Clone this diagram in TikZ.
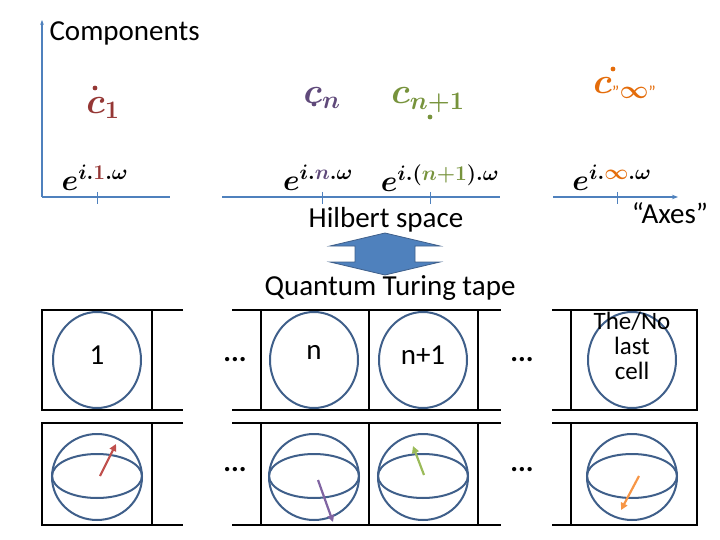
\RequirePackage{fix-cm}
\documentclass[tikz,border=0pt]{standalone}
\usepackage{amsmath}
\usepackage{fontspec}
\setmainfont{Carlito}
\usepackage{tikz}
\usetikzlibrary{positioning,arrows.meta}
\definecolor{axisblue}{HTML}{4F81BD}
\definecolor{ringblue}{HTML}{3F5F8A}
\definecolor{cred}{HTML}{953735}
\definecolor{cpurple}{HTML}{5F497A}
\definecolor{cgreen}{HTML}{77933C}
\definecolor{corange}{HTML}{E46C0A}
\definecolor{ared}{HTML}{C0504D}
\definecolor{apurple}{HTML}{8064A2}
\definecolor{agreen}{HTML}{9BBB59}
\definecolor{aorange}{HTML}{F79646}
\tikzset{
  lbl/.style={font=\fontsize{29}{30}\selectfont},
  ax/.style={axisblue, line width=1.2pt},
  ring/.style={ringblue, line width=2pt},
  tape/.style={black, line width=1.3pt},
  spin/.style={line width=2.2pt, -{Triangle[length=7pt,width=7pt]}},
  mth/.style={font=\fontsize{30}{32}\selectfont},
  cmp/.style={font=\fontsize{36}{38}\selectfont}
}
\begin{document}
\begin{tikzpicture}[x=1pt, y=-1pt]
  \useasboundingbox (0,0) rectangle (720,540);

  % axes of the Hilbert space
  \coordinate (o) at (42,197);
  \draw [ax, -{Stealth[length=5pt]}] (o) -- (42,20);
  \draw [ax] (o) -- (170,197);
  \draw [ax] (222,197) -- (500,197);
  \draw [ax, -{Stealth[length=6pt]}] (553,197) -- (678,197);
  \foreach \x in {97,322,430,617}
    \draw [axisblue, line width=0.6pt] (\x,192) -- (\x,204);

  \node (comp) [lbl, anchor=west] at (46,33) {Components};

  % basis vectors
  \node (e1) [mth] at (95,178) {$\boldsymbol{e^{i.\textcolor{cred}{1}.\omega}}$};
  \node (en) [mth] at (318,178) {$\boldsymbol{e^{i.\textcolor{cpurple}{n}.\omega}}$};
  \node (en1) [mth] at (440,178) {$\boldsymbol{e^{i.(\textcolor{cgreen}{n+1}).\omega}}$};
  \node (einf) [mth] at (612,178) {$\boldsymbol{e^{i.\textcolor{corange}{\infty}.\omega}}$};

  % components
  \node (c1) [cmp, text=cred] at (103,108) {$\boldsymbol{c_1}$};
  \node (cn) [cmp, text=cpurple] at (322,98) {$\boldsymbol{c_n}$};
  \node (cn1) [cmp, text=cgreen] at (428,100) {$\boldsymbol{c_{n+1}}$};
  \node (cinf) [cmp, text=corange] at (625,88) {$\boldsymbol{c_{\text{\fontsize{18}{18}\selectfont"}\infty\text{\fontsize{18}{18}\selectfont"}}}$};
  \fill [cred] (95,88) circle (2.4);
  \fill [cpurple] (314,104) circle (2.4);
  \fill [cgreen] (430,117) circle (2.4);
  \fill [corange] (613,69) circle (2.4);

  \node (hilbert) [lbl] at (386,220) {Hilbert space};
  \node (axes) [lbl] at (670,213) {“Axes”};

  % double block arrow
  \filldraw [fill=axisblue, draw=ringblue, line width=0.8pt]
    (385,233) -- (440,246) -- (415,246) -- (415,262) -- (440,262) -- (385,275)
    -- (330,262) -- (355,262) -- (355,246) -- (330,246) -- cycle;

  \node (qtt) [lbl] at (390,288) {Quantum Turing tape};

  % tape rows
  \foreach \t/\b in {310/410, 423/525} {
    \draw [tape] (183,\t) -- (42,\t) -- (42,\b) -- (183,\b);
    \draw [tape] (232,\t) -- (501,\t);
    \draw [tape] (232,\b) -- (501,\b);
    \draw [tape] (552,\t) -- (697,\t) -- (697,\b) -- (552,\b);
    \foreach \x in {152,261,369,478,571}
      \draw [tape] (\x,\t) -- (\x,\b);
  }

  % first row: cells
  \foreach \x in {97,314,423,632}
    \draw [ring] (\x,360) ellipse (44 and 48);
  \node (t1) [lbl] at (97,355) {1};
  \node (tn) [lbl] at (314,352) {n};
  \node (tn1) [lbl] at (423,355) {n+1};
  \node (tlast) [lbl, align=center, font=\fontsize{25}{25}\selectfont] at (632,346) {The/No\\last\\cell};
  \node (d1) [lbl] at (235,360) {\textbf{...}};
  \node (d2) [lbl] at (522,360) {\textbf{...}};

  % second row: spheres
  \foreach \x in {97,314,423,632} {
    \draw [ring] (\x,477) ellipse (45 and 43);
    \draw [ring] (\x,476) ellipse (45 and 22);
  }
  \node (d3) [lbl] at (235,470) {\textbf{...}};
  \node (d4) [lbl] at (522,470) {\textbf{...}};
  \draw [spin, ared] (100,476) -- (116,444);
  \draw [spin, apurple] (318,480) -- (333,522);
  \draw [spin, agreen] (424,475) -- (413,446);
  \draw [spin, aorange] (639,476) -- (621,510);
\end{tikzpicture}
\end{document}
